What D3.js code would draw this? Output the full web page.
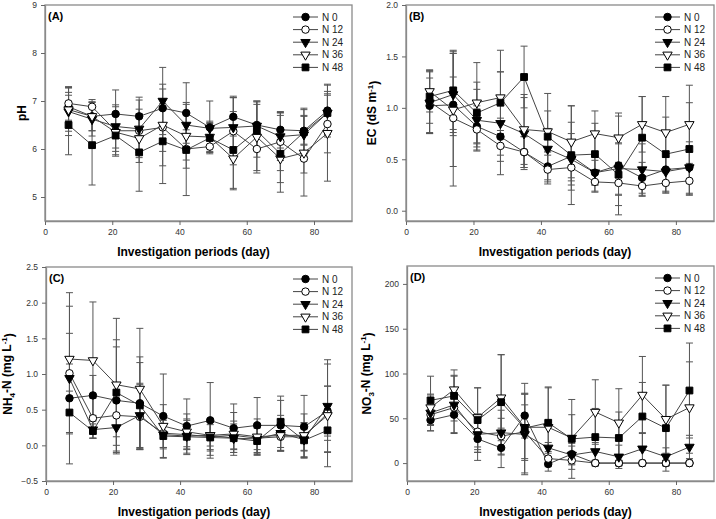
<!DOCTYPE html>
<html><head><meta charset="utf-8">
<script src="https://cdn.jsdelivr.net/npm/d3@7"></script>
<style>body{margin:0;background:#fff;} text{font-family:"Liberation Sans",Arial,sans-serif;}</style>
</head><body><svg id="c" width="716" height="519"></svg>
<script>
const days = [7,14,21,28,35,42,49,56,63,70,77,84];
const seriesNames = ["N 0","N 12","N 24","N 36","N 48"];
const xTicks = [0,20,40,60,80];
const xLabel = "Investigation periods (day)";

// Panel A: pH
const phMean = [
  [6.88,6.68,6.73,6.68,6.85,6.75,6.45,6.67,6.50,6.40,6.38,6.80],
  [6.95,6.88,6.38,6.38,6.45,6.00,6.05,6.37,6.00,6.15,5.80,6.52],
  [6.78,6.62,6.47,6.42,7.00,6.50,6.43,6.45,6.48,6.26,6.30,6.75],
  [6.82,6.68,6.35,6.22,6.50,6.27,6.25,5.80,6.25,5.80,5.92,6.33],
  [6.50,6.08,6.28,5.93,6.16,5.98,6.23,5.98,6.38,5.90,6.35,6.75]];
const phSd = [
  [0.30,0.30,0.50,0.40,0.40,0.63,0.55,0.40,0.50,0.38,0.30,0.55],
  [0.35,0.15,0.50,0.45,0.50,0.40,0.12,0.70,0.45,0.60,0.30,0.60],
  [0.50,0.35,0.45,0.60,0.70,0.47,0.15,0.65,0.50,0.50,0.40,0.40],
  [0.45,0.30,0.40,0.50,0.85,0.50,0.30,0.65,0.75,0.50,0.90,1.00],
  [0.62,0.83,0.43,0.81,0.88,0.95,0.30,0.80,0.55,0.80,0.50,0.45]];
const phTicks = [5,6,7,8,9];

// Panel B: EC
const ecMean = [
  [1.02,1.03,0.82,0.72,0.57,0.43,0.53,0.37,0.44,0.32,0.40,0.42],
  [1.06,0.90,0.79,0.63,0.57,0.40,0.42,0.28,0.27,0.24,0.27,0.29],
  [1.05,1.13,0.88,0.85,0.75,0.60,0.50,0.37,0.41,0.40,0.38,0.42],
  [1.16,0.98,1.05,1.10,0.79,0.77,0.67,0.75,0.71,0.84,0.76,0.84],
  [1.11,1.17,0.95,1.05,1.30,0.72,0.54,0.55,0.35,0.71,0.55,0.60]];
const ecSd = [
  [0.27,0.27,0.20,0.18,0.15,0.15,0.33,0.12,0.48,0.15,0.12,0.15],
  [0.30,0.66,0.20,0.15,0.15,0.14,0.13,0.10,0.12,0.10,0.10,0.13],
  [0.30,0.40,0.30,0.50,0.35,0.20,0.25,0.18,0.25,0.25,0.20,0.25],
  [0.20,0.55,0.39,0.46,0.34,0.20,0.35,0.22,0.24,0.27,0.35,0.38],
  [0.26,0.38,0.30,0.30,0.30,0.42,0.48,0.30,0.30,0.40,0.36,0.45]];
const ecTicks = [0,0.5,1.0,1.5,2.0];

// Panel C: NH4-N
const nhMean = [
  [0.66,0.70,0.63,0.59,0.41,0.27,0.35,0.24,0.28,0.28,0.26,0.48],
  [1.01,0.38,0.42,0.40,0.17,0.15,0.12,0.14,0.10,0.12,0.12,0.45],
  [0.94,0.22,0.25,0.42,0.15,0.13,0.14,0.10,0.09,0.17,0.08,0.55],
  [1.21,1.19,0.85,0.79,0.27,0.19,0.14,0.16,0.12,0.14,0.14,0.42],
  [0.46,0.20,0.74,0.56,0.13,0.12,0.11,0.10,0.06,0.33,0.07,0.21]];
const nhSd = [
  [0.48,0.28,0.75,0.65,0.59,0.38,0.53,0.34,0.39,0.35,0.44,0.35],
  [0.56,0.28,0.30,0.45,0.20,0.20,0.20,0.20,0.20,0.20,0.20,0.38],
  [1.20,0.12,0.35,0.45,0.20,0.15,0.15,0.15,0.15,0.25,0.15,0.65],
  [0.74,0.82,0.93,0.85,0.30,0.25,0.20,0.30,0.25,0.22,0.30,0.72],
  [0.30,0.10,0.74,0.60,0.30,0.25,0.25,0.20,0.20,0.36,0.24,0.30]];
const nhTicks = [-0.5,0,0.5,1.0,1.5,2.0,2.5];

// Panel D: NO3-N
const noMean = [
  [48,54,27,17,53,-1,10,0,0,0,0,0],
  [54,62,35,30,35,5,3,0,0,0,0,0],
  [56,65,32,34,32,17,9,13,7,16,7,18],
  [62,82,51,73,40,40,28,57,45,76,49,62],
  [70,75,48,68,39,45,27,29,28,52,39,81]];
const noSd = [
  [12,20,24,22,25,8,12,3,3,3,3,3],
  [12,15,20,20,30,8,10,3,3,3,3,3],
  [20,32,20,25,45,6,10,10,13,18,10,13],
  [15,22,33,48,37,44,26,36,38,43,38,51],
  [27,23,36,53,50,40,44,32,29,38,48,53]];
const noTicks = [0,50,100,150,200];

const svg = d3.select("#c");

const panels = [
  {tag:"(A)", left:45, top:5, right:352, bottom:221, yDomain:[4.5,9], ticks:phTicks, fmt:d3.format("d"),
   mean:phMean, sd:phSd, ylab:"pH", ylx:22, titleY:256},
  {tag:"(B)", left:406, top:5, right:714, bottom:221, yDomain:[-0.1,2.0], ticks:ecTicks, fmt:d3.format(".1f"),
   mean:ecMean, sd:ecSd, ylab:"EC", ylx:372, titleY:256},
  {tag:"(C)", left:46, top:267, right:352, bottom:481, yDomain:[-0.5,2.5], ticks:nhTicks, fmt:d3.format(".1f"),
   mean:nhMean, sd:nhSd, ylab:"NH4", ylx:8, titleY:516},
  {tag:"(D)", left:407, top:266, right:714, bottom:481, yDomain:[-20,220], ticks:noTicks, fmt:d3.format("d"),
   mean:noMean, sd:noSd, ylab:"NO3", ylx:367, titleY:516}
];

const shapes = [
  {type:d3.symbolCircle, size:44, fill:"#000", rot:0},
  {type:d3.symbolCircle, size:44, fill:"#fff", rot:0},
  {type:d3.symbolTriangle, size:38, fill:"#000", rot:180},
  {type:d3.symbolTriangle, size:38, fill:"#fff", rot:180},
  {type:d3.symbolSquare, size:46, fill:"#000", rot:0}
];
function marker(g, s, x, y) {
  g.append("path").attr("d", d3.symbol().type(s.type).size(s.size)())
    .attr("transform", `translate(${x},${y}) rotate(${s.rot})`)
    .attr("fill", s.fill).attr("stroke", "#000").attr("stroke-width", 1);
}

panels.forEach(p => {
  const x = d3.scaleLinear().domain([0,91.3]).range([p.left, p.right]);
  const y = d3.scaleLinear().domain(p.yDomain).range([p.bottom, p.top]);
  const g = svg.append("g");

  g.append("rect").attr("x", p.left).attr("y", p.top).attr("width", p.right-p.left).attr("height", p.bottom-p.top)
    .attr("fill", "none").attr("stroke", "#8a8a8a").attr("stroke-width", 1.3);

  const xa = g.append("g").attr("transform", `translate(0,${p.bottom})`)
    .call(d3.axisBottom(x).tickValues(xTicks).tickSize(4).tickSizeOuter(0).tickPadding(4));
  xa.select(".domain").attr("stroke", "#8a8a8a").attr("stroke-width", 1.3);
  xa.selectAll(".tick line").attr("stroke", "#666");
  xa.selectAll("text").attr("font-size", 8.5).attr("fill", "#333").attr("font-family", "Liberation Sans, Arial, sans-serif");
  const ya = g.append("g").attr("transform", `translate(${p.left},0)`)
    .call(d3.axisLeft(y).tickValues(p.ticks).tickFormat(p.fmt).tickSize(4).tickSizeOuter(0).tickPadding(4));
  ya.select(".domain").attr("stroke", "#8a8a8a").attr("stroke-width", 1.3);
  ya.selectAll(".tick line").attr("stroke", "#666");
  ya.selectAll("text").attr("font-size", 8.5).attr("fill", "#333").attr("font-family", "Liberation Sans, Arial, sans-serif");

  g.append("text").attr("x", (p.left+p.right)/2 - 5).attr("y", p.titleY).attr("text-anchor", "middle")
    .attr("font-size", 12).attr("font-weight", "bold").text(xLabel);

  const yt = g.append("text").attr("transform", `translate(${p.ylx},${(p.top+p.bottom)/2}) rotate(-90)`)
    .attr("text-anchor", "middle").attr("dy", "0.35em").attr("font-size", 12).attr("font-weight", "bold");
  if (p.ylab === "pH") yt.text("pH");
  else if (p.ylab === "EC") {
    yt.append("tspan").text("EC (dS m");
    yt.append("tspan").attr("dy", "-0.45em").attr("font-size", 8).text("-1");
    yt.append("tspan").attr("dy", "0.45em").text(")");
  } else {
    const sub = p.ylab === "NH4" ? "4" : "3";
    const head = p.ylab === "NH4" ? "NH" : "NO";
    yt.append("tspan").text(head);
    yt.append("tspan").attr("dy", "0.35em").attr("font-size", 8).text(sub);
    yt.append("tspan").attr("dy", "-0.35em").text("-N (mg L");
    yt.append("tspan").attr("dy", "-0.45em").attr("font-size", 8).text("-1");
    yt.append("tspan").attr("dy", "0.45em").text(")");
  }

  g.append("text").attr("x", p.left+3).attr("y", p.top+15).attr("font-size", 11).attr("font-weight", "bold").text(p.tag);

  const eb = g.append("g");
  p.mean.forEach((ser, si) => {
    ser.forEach((m, i) => {
      const s = p.sd[si][i];
      const cx = x(days[i]);
      eb.append("line").attr("x1", cx).attr("x2", cx).attr("y1", y(m - s)).attr("y2", y(m + s))
        .attr("stroke", "#555").attr("stroke-width", 1);
      [m - s, m + s].forEach(v => eb.append("line").attr("x1", cx-3.5).attr("x2", cx+3.5)
        .attr("y1", y(v)).attr("y2", y(v)).attr("stroke", "#555").attr("stroke-width", 1));
    });
  });

  const line = d3.line().x((d,i) => x(days[i])).y(d => y(d));
  p.mean.forEach(ser => {
    g.append("path").attr("d", line(ser)).attr("fill", "none").attr("stroke", "#444").attr("stroke-width", 1);
  });
  p.mean.forEach((ser, si) => {
    ser.forEach((m, i) => marker(g, shapes[si], x(days[i]), y(m)));
  });

  const lx = p.right - 59, ly = p.top + 12;
  seriesNames.forEach((name, si) => {
    const yy = ly + si * 12.6;
    g.append("line").attr("x1", lx).attr("x2", lx + 25).attr("y1", yy).attr("y2", yy).attr("stroke", "#444");
    marker(g, shapes[si], lx + 12.5, yy);
    g.append("text").attr("x", lx + 29).attr("y", yy).attr("dy", "0.35em").attr("font-size", 10).attr("fill", "#222").text(name);
  });
});
</script></body></html>
